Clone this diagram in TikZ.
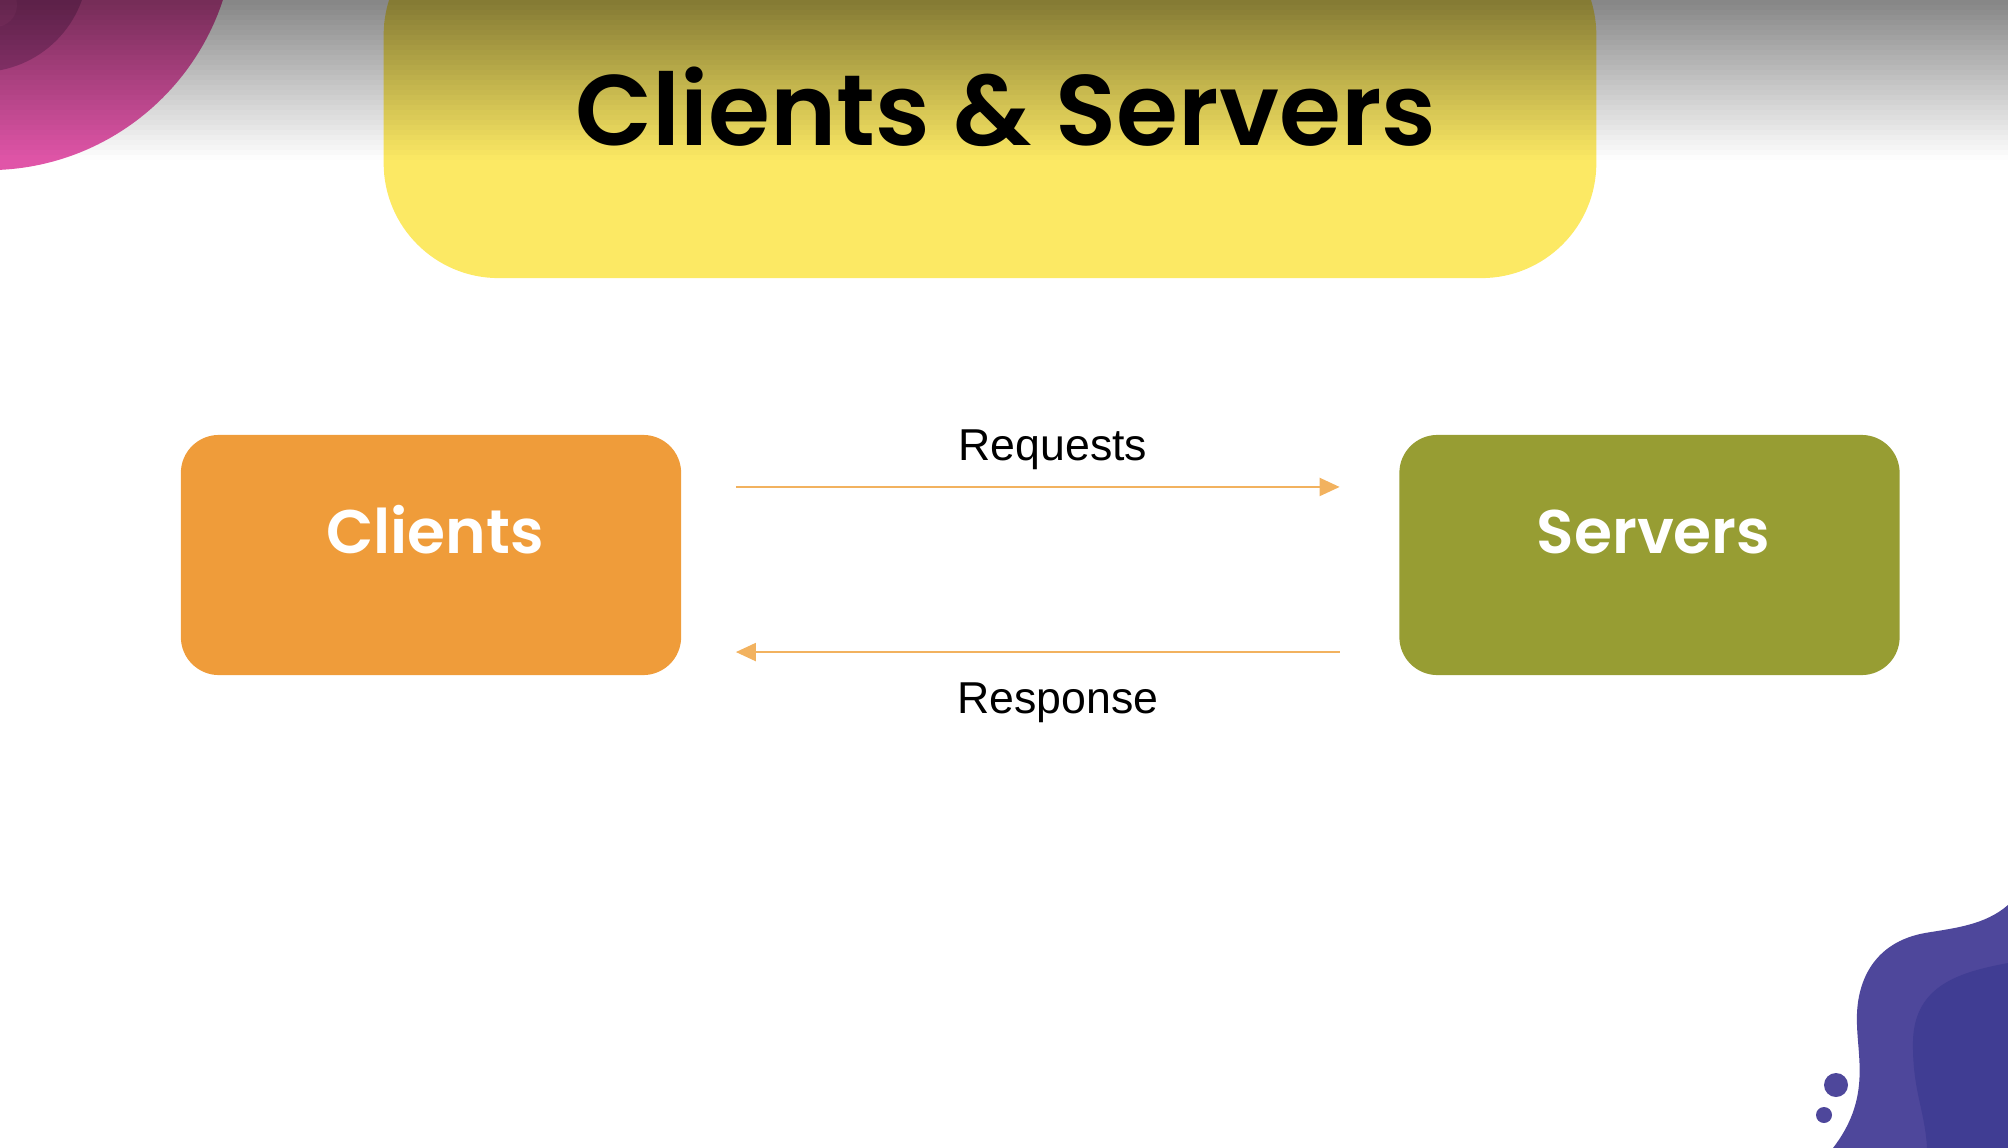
\documentclass[tikz,border=0pt]{standalone}
\usepackage{fontspec}
\setmainfont{Liberation Sans}
\newfontfamily\headfont{Poppins SemiBold}
\usetikzlibrary{arrows.meta}

\definecolor{titleyellow}{HTML}{FCE964}
\definecolor{clientorange}{HTML}{EF9C3A}
\definecolor{serverolive}{HTML}{979D33}
\definecolor{arrowline}{HTML}{F2B25F}
\definecolor{blobouter}{HTML}{4E479B}
\definecolor{blobinner}{HTML}{403D93}
\definecolor{pinkouter}{HTML}{E055A8}
\definecolor{pinkring}{HTML}{B0408A}
\definecolor{pinkdot}{HTML}{BC4792}

\tikzset{
  card/.style={rounded corners=0.38cm, minimum width=5cm, minimum height=2.4cm, inner sep=0pt},
  cardtext/.style={text=white, font=\headfont\fontsize{17.5}{21}\selectfont, anchor=base},
  flow/.style={draw=arrowline, line width=0.6pt, -{Triangle[length=0.2cm,width=0.18cm]}},
  flowtext/.style={font=\fontsize{12.7}{15}\selectfont, anchor=base}
}

\begin{document}
\begin{tikzpicture}[x=0.01cm, y=-0.01cm]
                \useasboundingbox (0,0) rectangle (2008,1148);
                \clip (0,0) rectangle (2008,1148);
                % pink corner
                \fill[pinkouter] (-12,-77) circle (2.47cm);
                \fill[pinkring] (-20,-36) circle (1.08cm);
                \fill[pinkdot] (-5,5) circle (0.22cm);
                % title box
                \node[fill=titleyellow, rounded corners=1.15cm, minimum width=12.12cm, minimum height=3.58cm, inner sep=0pt] (titlebox) at (990,99) {};
                % shadow at the top
                \foreach \i in {0,...,31}
                    \fill[black, opacity=0.48*(1-(\i+0.5)/32)] (0,\i*5) rectangle (2008,\i*5+5);
                \node[anchor=base, font=\headfont\fontsize{28.5}{34}\selectfont] (title) at (1006,145) {Clients \& Servers};
                % purple corner
                \fill[blobouter] (2008,905) .. controls (1985,925) and (1955,928) .. (1925,933)
                    .. controls (1875,942) and (1855,980) .. (1857,1025)
                    .. controls (1858,1060) and (1870,1100) .. (1833,1148) -- (2008,1148) -- cycle;
                \fill[blobinner] (2008,963) .. controls (1960,972) and (1915,985) .. (1913,1040)
                    .. controls (1912,1090) and (1925,1110) .. (1927,1148) -- (2008,1148) -- cycle;
                \fill[blobouter] (1836,1085) circle (0.12cm);
                \fill[blobouter] (1824,1115) circle (0.08cm);
                % boxes
                \node[card, fill=clientorange] (clients) at (431,555) {};
                \node[card, fill=serverolive] (servers) at (1649.5,555) {};
                \node[cardtext] (clientslabel) at ([xshift=0.04cm,yshift=0.02cm]clients.center) {Clients};
                \node[cardtext] (serverslabel) at ([xshift=0.04cm,yshift=0.02cm]servers.center) {Servers};
                % arrows
                \draw[flow, shorten <=0.54cm, shorten >=0.59cm] ([yshift=0.68cm]clients.east) -- ([yshift=0.68cm]servers.west);
                \draw[flow, shorten <=0.59cm, shorten >=0.54cm] ([yshift=-0.97cm]servers.west) -- ([yshift=-0.97cm]clients.east);
                \node[flowtext] (requests) at (1053,460) {Requests};
                \node[flowtext] (response) at (1058,713) {Response};
            \end{tikzpicture}
\end{document}
